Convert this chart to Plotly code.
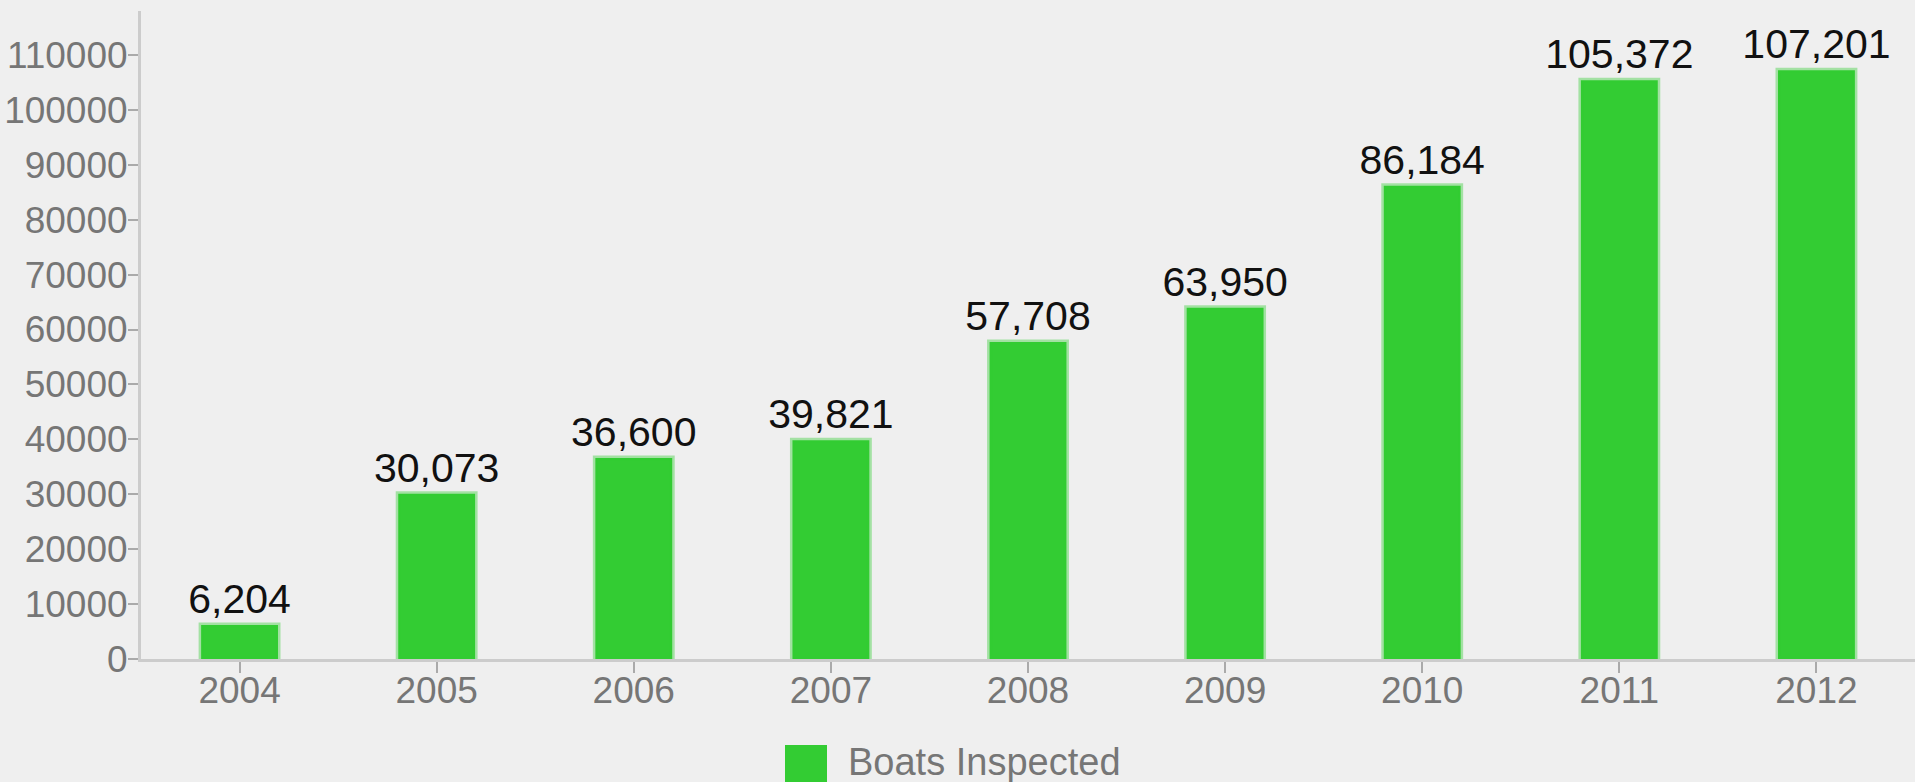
import plotly.graph_objects as go

years = ["2004", "2005", "2006", "2007", "2008", "2009", "2010", "2011", "2012"]
boats_inspected = [6204, 30073, 36600, 39821, 57708, 63950, 86184, 105372, 107201]
series_name = "Boats Inspected"

GREEN = "#33cc33"
BG = "#efefef"
FONT = "Liberation Sans, Arial, sans-serif"
TICK_COLOR = "#767676"

fig = go.Figure()
fig.add_trace(go.Bar(
    x=years, y=boats_inspected, name=series_name,
    width=0.39,
    marker=dict(color=GREEN, line=dict(color="rgba(51,204,51,0.4)", width=5)),
    texttemplate="%{y:,}", textposition="outside", constraintext="none",
    textfont=dict(size=41, color="#111111", family=FONT),
    cliponaxis=False, showlegend=False,
))

L, R, T, B = 141, 0, 11, 123
W, H = 1915, 782
pw, ph = W - L - R, H - T - B

def px_x(p):
    return (p - L) / pw

def px_y(p):
    return (H - B - p) / ph

fig.add_shape(type="rect", xref="paper", yref="paper",
              x0=px_x(785), x1=px_x(827), y0=px_y(745), y1=px_y(787),
              fillcolor=GREEN, line=dict(width=0), layer="above")
fig.add_annotation(xref="paper", yref="paper", x=px_x(846), y=px_y(762),
                   xanchor="left", yanchor="middle", text=series_name, showarrow=False,
                   font=dict(size=38, color=TICK_COLOR, family=FONT))

fig.update_layout(
    width=W, height=H,
    margin=dict(l=L, r=R, t=T, b=B, pad=0, autoexpand=False),
    paper_bgcolor=BG, plot_bgcolor=BG,
    font=dict(family=FONT, color=TICK_COLOR, size=37),
    showlegend=False,
)
fig.update_xaxes(
    type="category", range=[-0.5, 8.5], automargin=False,
    showline=True, linecolor="#cccccc", linewidth=3,
    ticks="outside", ticklen=11, tickwidth=2, tickcolor="#aaaaaa",
    ticklabelstandoff=-14,
    showgrid=False, tickfont=dict(size=37, color=TICK_COLOR),
)
fig.update_yaxes(
    range=[0, 118000], dtick=10000, tick0=0, tickformat="d", automargin=False,
    showline=True, linecolor="#cccccc", linewidth=3,
    ticks="outside", ticklen=10, tickwidth=2, tickcolor="#aaaaaa",
    ticklabelstandoff=-7,
    showgrid=False, zeroline=False, tickfont=dict(size=37, color=TICK_COLOR),
)

fig.write_html(
    "out.html",
    config={"displayModeBar": False},
    post_script="document.body.style.margin='0';document.body.style.background='%s';"
                "document.body.style.overflow='hidden';" % BG,
)
